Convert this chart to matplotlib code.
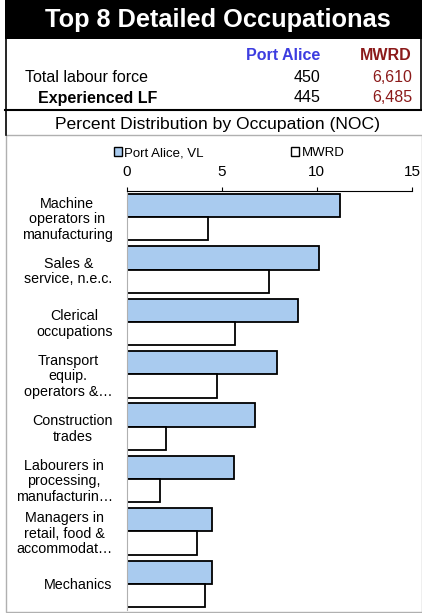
import numpy as np
import matplotlib.pyplot as plt
from matplotlib.patches import Rectangle, Patch
from matplotlib.lines import Line2D

plt.rcParams['font.family'] = ['Liberation Sans', 'DejaVu Sans']

title = "Top 8 Detailed Occupationas"
areas = ["Port Alice", "MWRD"]
total_lf = ["450", "6,610"]
exp_lf = ["445", "6,485"]

occupations = ["Machine\noperators in\nmanufacturing",
               "Sales &\nservice, n.e.c.",
               "Clerical\noccupations",
               "Transport\nequip.\noperators &\u2026",
               "Construction\ntrades",
               "Labourers in\nprocessing,\nmanufacturin\u2026",
               "Managers in\nretail, food &\naccommodat\u2026",
               "Mechanics"]
port_alice = [11.2, 10.1, 9.0, 7.9, 6.75, 5.65, 4.5, 4.5]
mwrd = [4.3, 7.5, 5.7, 4.75, 2.1, 1.75, 3.7, 4.1]
xticks = [0, 5, 10, 15]

blue = "#a9cbef"
dred = "#8b1a1a"
pblue = "#3d3de0"

fig = plt.figure(figsize=(4.22, 6.13), dpi=100)
W, H = 422.0, 613.0

def fx(px):
    return px / W

def fy(py):
    return 1 - py / H

# header block
fig.patches.append(Rectangle((fx(5), fy(39)), fx(417), 39 / H, transform=fig.transFigure,
                             facecolor="black", edgecolor="none"))
fig.text(fx(218), fy(20), title, color="white", fontsize=18.3, fontweight="bold",
         ha="center", va="center")
fig.lines.append(Line2D([fx(5.5), fx(5.5)], [fy(39), fy(135)], transform=fig.transFigure,
                        color="black", lw=1.2))
fig.lines.append(Line2D([fx(420.5), fx(420.5)], [fy(39), fy(110)], transform=fig.transFigure,
                        color="black", lw=1.2))
fig.lines.append(Line2D([fx(5), fx(421)], [fy(110), fy(110)], transform=fig.transFigure,
                        color="black", lw=1.5))

fs = 11.5
fig.text(fx(320), fy(56), areas[0], color=pblue, fontsize=fs, fontweight="bold", ha="right", va="center")
fig.text(fx(412), fy(56), areas[1], color=dred, fontsize=fs, fontweight="bold", ha="right", va="center")
fig.text(fx(25), fy(78), "Total labour force", fontsize=fs, ha="left", va="center")
fig.text(fx(320), fy(78), total_lf[0], fontsize=fs, ha="right", va="center")
fig.text(fx(412), fy(78), total_lf[1], color=dred, fontsize=fs, ha="right", va="center")
fig.text(fx(38), fy(98), "Experienced LF", fontsize=fs, fontweight="bold", ha="left", va="center")
fig.text(fx(320), fy(98), exp_lf[0], fontsize=fs, ha="right", va="center")
fig.text(fx(412), fy(98), exp_lf[1], color=dred, fontsize=fs, ha="right", va="center")
fig.text(fx(218), fy(124), "Percent Distribution by Occupation (NOC)", fontsize=12.6, ha="center", va="center")

# chart border
fig.patches.append(Rectangle((fx(5.5), fy(612)), fx(416), (612 - 135) / H, transform=fig.transFigure,
                             facecolor="none", edgecolor="#b0b0b0", lw=1))

ax = fig.add_axes([fx(126.5), fy(610), fx(412 - 126.5), (610 - 191) / H])
y = np.arange(len(occupations))
h = 0.443
ax.barh(y - h / 2, port_alice, height=h, color=blue, edgecolor="black", lw=1.3, label="Port Alice, VL")
ax.barh(y + h / 2, mwrd, height=h, color="white", edgecolor="black", lw=1.3, label="MWRD")
ax.set_ylim(len(occupations) - 0.5, -0.5)
ax.set_xlim(0, 15)
ax.set_xticks(xticks)
ax.xaxis.tick_top()
ax.tick_params(axis="x", direction="out", length=3, labelsize=11, pad=6, color="black")
ax.set_yticks(y)
ax.set_yticklabels(occupations, fontsize=10.3, multialignment="center", linespacing=1.12)
ax.tick_params(axis="y", length=0, pad=10)
for s in ["right", "bottom"]:
    ax.spines[s].set_visible(False)
ax.spines["left"].set_color("#b0b0b0")
ax.spines["top"].set_color("black")

handles = [Patch(facecolor=blue, edgecolor="black", lw=1), Patch(facecolor="white", edgecolor="black", lw=1)]
fig.legend(handles, ["Port Alice, VL", "MWRD"], loc="center", bbox_to_anchor=(fx(229), fy(153)),
           ncol=2, frameon=False, fontsize=9.5, handlelength=0.6, handleheight=0.6,
           handletextpad=0.2, columnspacing=6.6)

fig.savefig("out.png", dpi=100)
